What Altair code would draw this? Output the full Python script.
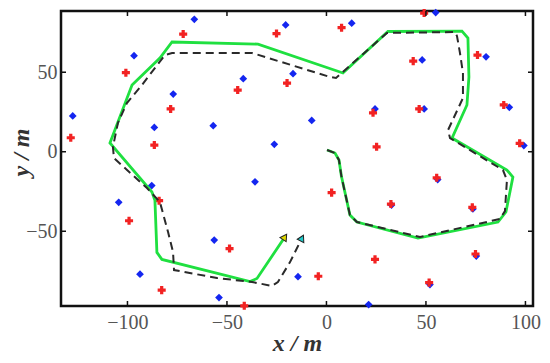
import altair as alt
import pandas as pd

# ---- data ----
blue_x = [-66.4, -96.7, -77.0, -127.5, -86.5, -56.9, -20.5, 12.7, -41.8, -16.8, -7.4, -26.2,
          24.4, 54.9, 48.1, 80.2, 49.1, 91.9, 99.2, -87.8, -104.4, -56.4, -93.7, -54.0,
          -35.9, -14.3, 21.2, 55.9, 73.6, 75.3, 52.0, 32.7]
blue_y = [83.3, 60.4, 36.3, 22.5, 15.3, 16.4, 79.7, 80.8, 45.9, 49.1, 19.7, 4.7,
          26.9, 87.5, 57.7, 59.7, 26.9, 27.9, 3.9, -21.3, -31.8, -55.5, -77.0, -91.7,
          -18.9, -78.6, -96.1, -17.5, -36.0, -65.6, -83.5, -33.5]

red_x = [-72.0, -100.8, -78.3, -128.5, -86.5, -25.1, 7.6, -44.6, -19.8, 23.4, 25.2, 49.1,
         43.6, 75.9, 46.6, 89.1, 97.1, -84.1, -99.2, -48.7, -82.8, -41.3, 2.6, -4.1,
         55.4, 32.4, 73.3, 24.4, 74.9, 51.6]
red_y = [74.0, 49.7, 26.9, 8.8, 4.2, 74.3, 78.0, 38.8, 43.2, 24.5, 3.1, 87.2,
         57.0, 60.8, 26.9, 29.4, 5.3, -30.8, -43.4, -60.9, -87.0, -96.9, -25.7, -78.3,
         -16.4, -32.9, -35.0, -67.7, -64.3, -82.3]

true_x = [0.3, 4.3, 6.3, 7.5, 11.8, 15.3, 46.0, 86.2, 90.2, 93.7, 90.7, 63.1, 70.6, 71.6,
          71.1, 68.1, 30.9, 8.3, -34.4, -77.6, -83.7, -97.7, -108.8, -87.7, -86.2, -85.2,
          -82.7, -38.4, -34.9, -20.9]
true_y = [1.1, -0.8, -5.2, -15.3, -39.8, -44.2, -54.3, -44.2, -37.9, -15.9, -11.5, 8.6, 29.4, 47.0,
          71.5, 75.9, 75.6, 49.5, 67.7, 69.0, 58.9, 42.0, 5.5, -25.3, -30.5, -63.3,
          -67.7, -81.6, -79.7, -53.6]

est_x = [0.3, 4.3, 6.3, 7.5, 11.8, 15.3, 47.0, 87.2, 89.7, 90.7, 88.7, 62.1, 61.1, 68.6,
         68.6, 67.1, 65.6, 64.6, 30.4, 4.8, 1.8, -37.4, -77.6, -81.2, -92.7, -100.3,
         -104.8, -107.3, -106.8, -90.2, -83.7, -79.6, -77.1, -76.6, -55.0, -37.4, -27.4,
         -24.4, -18.3, -12.3]
est_y = [1.1, -0.8, -5.2, -15.3, -39.8, -44.2, -53.6, -42.3, -37.3, -17.8, -11.5, 8.6, 13.6, 33.8,
         49.5, 62.1, 72.8, 75.3, 74.7, 46.4, 47.0, 62.1, 62.1, 60.8, 42.0, 30.6,
         18.1, 3.0, -4.0, -22.8, -31.6, -50.5, -63.1, -74.4, -79.4, -81.9, -84.4,
         -81.9, -69.4, -54.3]

x_ticks = [-100, -50, 0, 50, 100]
y_ticks = [-50, 0, 50]
x_domain = [-133.4, 103.8]
y_domain = [-97.0, 88.5]

# ---- tables ----
blue = pd.DataFrame({"x": blue_x, "y": blue_y})
red = pd.DataFrame({"x": red_x, "y": red_y})
true_path = pd.DataFrame({"x": true_x, "y": true_y, "i": range(len(true_x))})
est_path = pd.DataFrame({"x": est_x, "y": est_y, "i": range(len(est_x))})
true_end = true_path.tail(1)
est_end = est_path.tail(1)
xt = pd.DataFrame({"x": x_ticks})
yt = pd.DataFrame({"y": y_ticks})

W, H = 472, 295
xs = alt.Scale(domain=x_domain, nice=False, zero=False)
ys = alt.Scale(domain=y_domain, nice=False, zero=False)

x_axis = alt.Axis(values=x_ticks, title="x / m", grid=False, ticks=False, domain=False,
                  labelPadding=6, titleY=44, titleBaseline="alphabetic")
y_axis = alt.Axis(values=y_ticks, title="y / m", grid=False, ticks=False, domain=False,
                  labelPadding=4, titleX=-33, titleY=141, titleAngle=270,
                  titleBaseline="alphabetic")

X = alt.X("x:Q", scale=xs, axis=x_axis)
Y = alt.Y("y:Q", scale=ys, axis=y_axis)

blue_pts = alt.Chart(blue).mark_point(shape="diamond", filled=True, size=60,
                                      color="#1426f0", opacity=1).encode(x=X, y=Y)
red_pts = alt.Chart(red).mark_point(shape="cross", filled=True, size=65,
                                    color="#f22222", opacity=1).encode(x=X, y=Y)

green = alt.Chart(true_path).mark_line(color="#1fe040", strokeWidth=2.8).encode(
    x=X, y=Y, order="i:Q")
dashed = alt.Chart(est_path).mark_line(color="#2a2a2a", strokeWidth=2.0,
                                       strokeDash=[8, 5]).encode(x=X, y=Y, order="i:Q")

head_g = alt.Chart(true_end).mark_point(shape="triangle-up", filled=True, size=55,
                                        fill="#e0d800", stroke="#222", strokeWidth=1,
                                        opacity=1, angle=34).encode(x=X, y=Y)
head_d = alt.Chart(est_end).mark_point(shape="triangle-up", filled=True, size=55,
                                       fill="#20c8c8", stroke="#222", strokeWidth=1,
                                       opacity=1, angle=27).encode(x=X, y=Y)

tick_top = alt.Chart(xt).mark_rule(color="#111", strokeWidth=1.5).encode(
    x=X, y=alt.value(0), y2=alt.value(5))
tick_bot = alt.Chart(xt).mark_rule(color="#111", strokeWidth=1.5).encode(
    x=X, y=alt.value(H), y2=alt.value(H - 5))
tick_left = alt.Chart(yt).mark_rule(color="#111", strokeWidth=1.5).encode(
    y=Y, x=alt.value(0), x2=alt.value(5))
tick_right = alt.Chart(yt).mark_rule(color="#111", strokeWidth=1.5).encode(
    y=Y, x=alt.value(W), x2=alt.value(W - 5))

chart = alt.layer(
    blue_pts, red_pts, green, dashed, head_g, head_d,
    tick_top, tick_bot, tick_left, tick_right,
).properties(
    width=W, height=H,
    autosize=alt.AutoSizeParams(type="none"),
    padding={"left": 53, "top": 3, "right": 9, "bottom": 49},
).configure_view(
    stroke="#111", strokeWidth=2.5,
).configure_axis(
    labelFont="Liberation Serif", labelFontSize=20, labelColor="#555",
    titleFont="Liberation Serif", titleFontSize=24, titleFontStyle="italic",
    titleFontWeight="bold", titleColor="#333",
)

chart.save("out.html", embed_options={"renderer": "svg", "actions": False})
